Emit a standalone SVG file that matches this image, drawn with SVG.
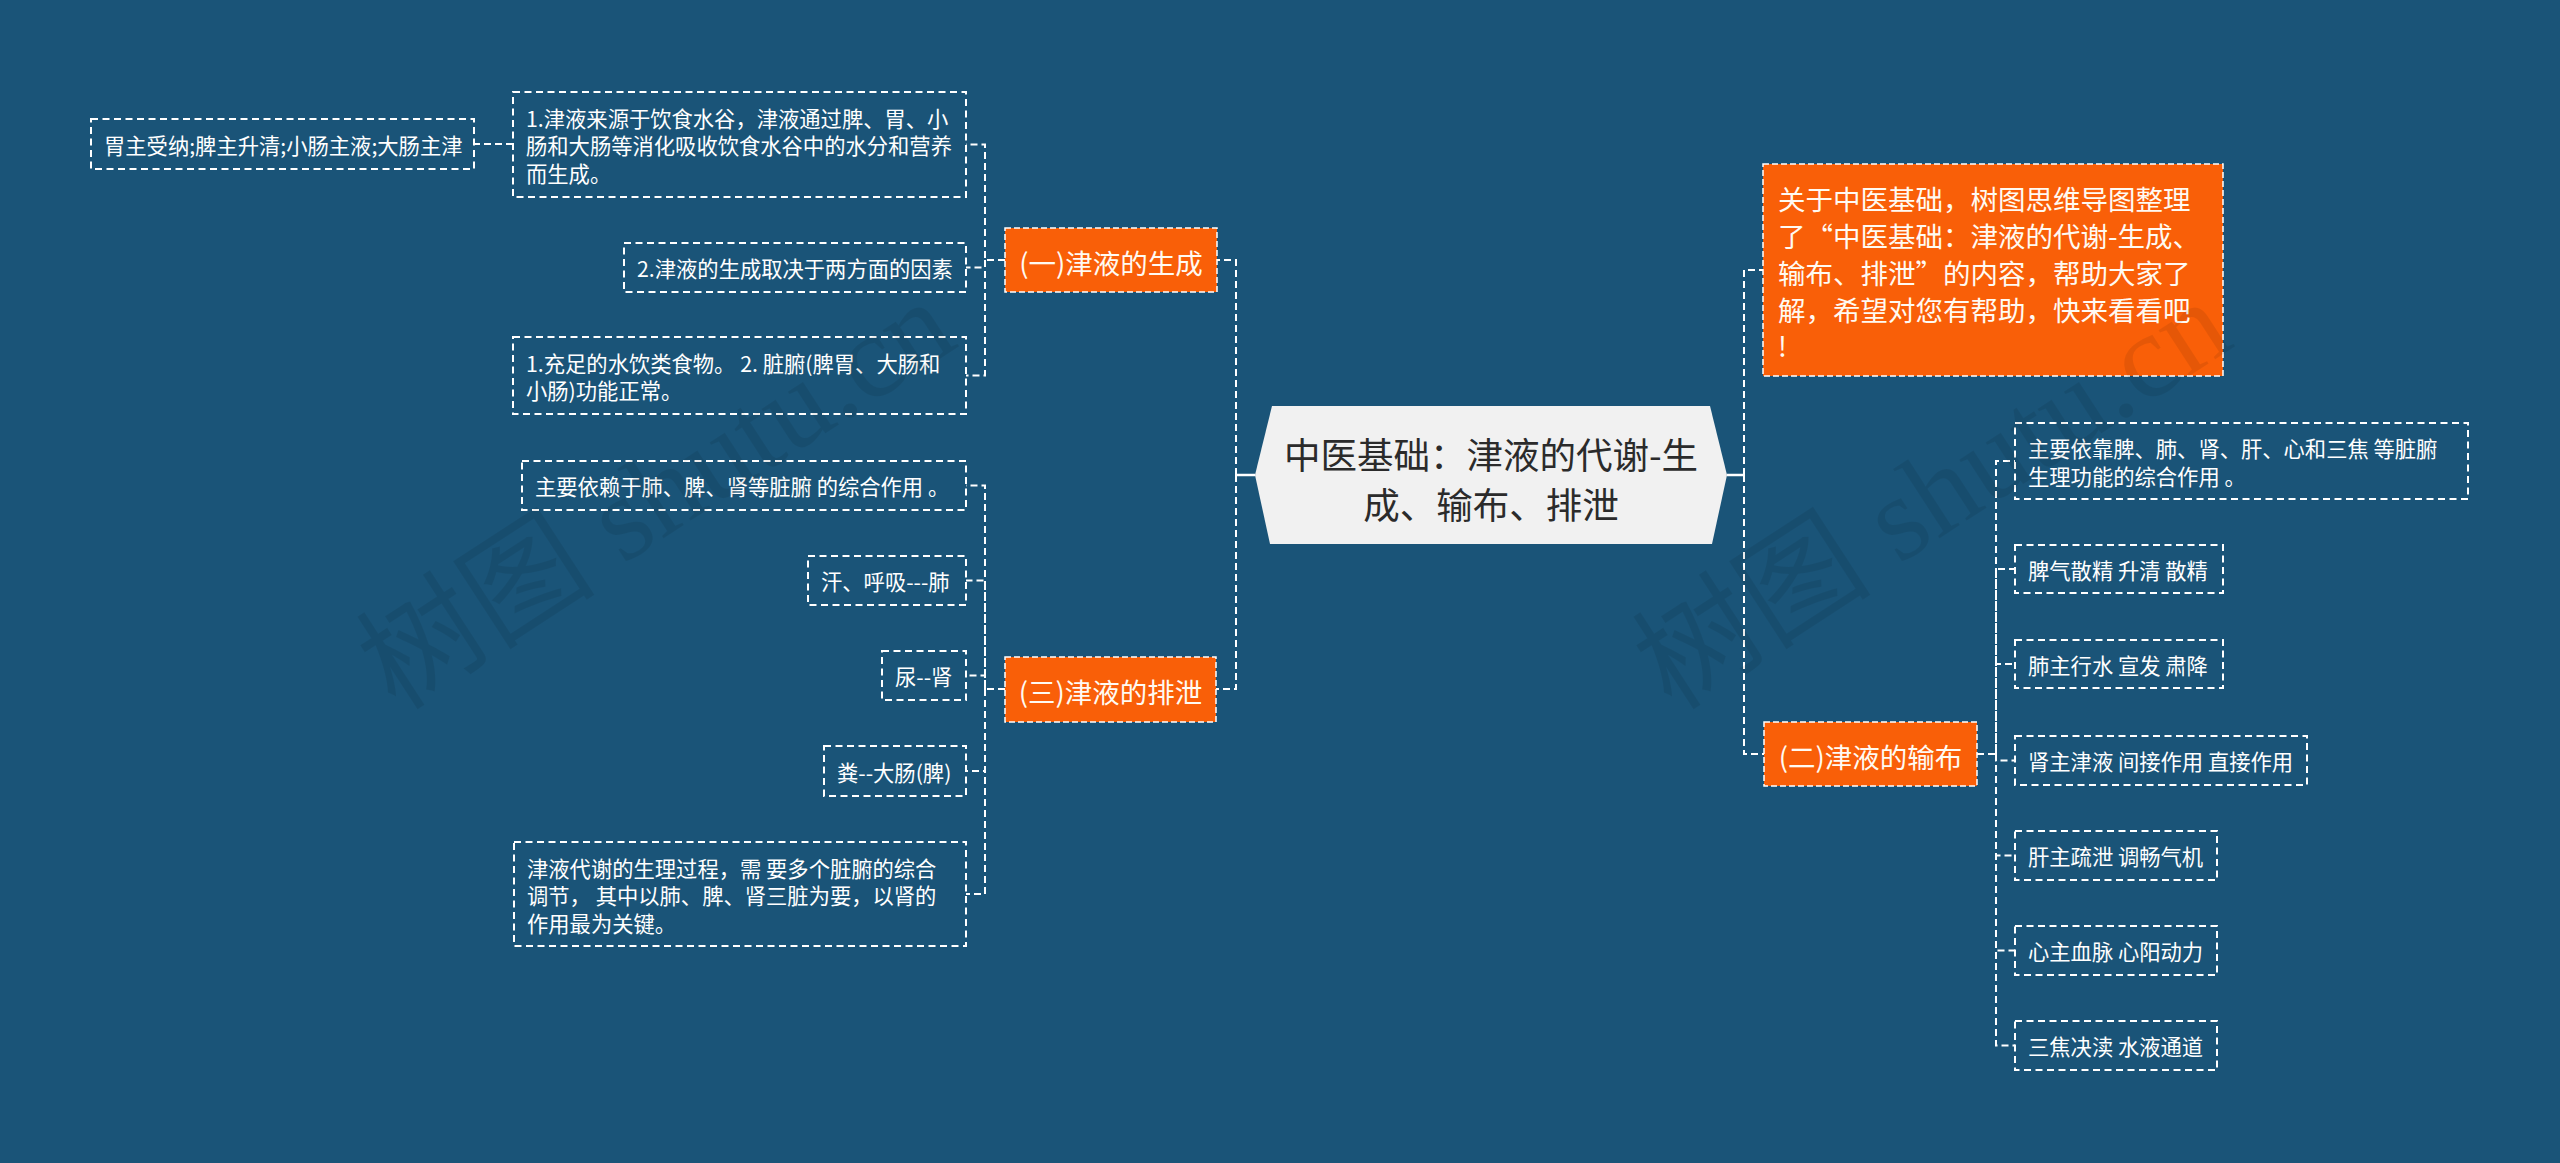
<svg xmlns="http://www.w3.org/2000/svg" width="2560" height="1163" viewBox="0 0 2560 1163">
<style>
.bg{fill:#1a5478}
.conn{fill:none;stroke:#ffffff;stroke-width:2;stroke-dasharray:7 4}
.stub{fill:none;stroke:#ffffff;stroke-width:2.5}
.leaf{fill:none;stroke:#ffffff;stroke-width:2;stroke-dasharray:7 4.5}
.org{fill:#f95f08;stroke:#ffffff;stroke-width:1.5;stroke-dasharray:6 3}
.root{fill:#f1f1f1}
.t{font-family:"Noto Sans CJK SC","Noto Sans",sans-serif;font-size:21.3px;fill:#ffffff;dominant-baseline:central}
.to{font-family:"Noto Sans CJK SC","Noto Sans",sans-serif;font-size:27.5px;fill:#fffaf2;dominant-baseline:central}
.tr{font-family:"Noto Sans CJK SC","Noto Sans",sans-serif;font-size:36.5px;fill:#2b2b2b;dominant-baseline:central;text-anchor:middle}
.wm{font-family:"Liberation Serif","Noto Sans CJK SC",serif;font-size:120px;fill:#000000;fill-opacity:0.08}
</style>
<rect class="bg" x="0" y="0" width="2560" height="1163"/>

<g id="connectors">
  <path class="stub" d="M1255,475 H1236"/>
  <path class="stub" d="M1727,475 H1744"/>
  <path class="conn" d="M1236,475 V260 H1005"/>
  <path class="conn" d="M1236,475 V689 H1005"/>
  <path class="conn" d="M1744,475 V270 H1763"/>
  <path class="conn" d="M1744,475 V754 H1764"/>
  <path class="conn" d="M1005,260 H985 V144.5 H966"/>
  <path class="conn" d="M985,260 V267.5 H966"/>
  <path class="conn" d="M985,260 V375.5 H966"/>
  <path class="conn" d="M513,144 H474"/>
  <path class="conn" d="M1005,689 H985 V485.5 H966"/>
  <path class="conn" d="M985,689 V580.5 H966"/>
  <path class="conn" d="M985,689 V675.5 H966"/>
  <path class="conn" d="M985,689 V771 H966"/>
  <path class="conn" d="M985,689 V894 H966"/>
  <path class="conn" d="M1977,754 H1996 V461 H2015"/>
  <path class="conn" d="M1996,754 V569 H2015"/>
  <path class="conn" d="M1996,754 V664 H2015"/>
  <path class="conn" d="M1996,754 V760.5 H2015"/>
  <path class="conn" d="M1996,754 V855.5 H2015"/>
  <path class="conn" d="M1996,754 V950.5 H2015"/>
  <path class="conn" d="M1996,754 V1045.5 H2015"/>
</g>

<g id="root">
  <polygon class="root" points="1272,406 1710,406 1727,475 1712,544 1270,544 1255,475"/>
  <text class="tr" x="1491" y="453">中医基础：津液的代谢-生</text>
  <text class="tr" x="1491" y="503">成、输布、排泄</text>
</g>

<g id="intro">
  <rect class="org" x="1763" y="164" width="460" height="212"/>
  <text class="to" x="1778" y="198">关于中医基础，树图思维导图整理</text>
  <text class="to" x="1778" y="235">了“中医基础：津液的代谢-生成、</text>
  <text class="to" x="1778" y="272">输布、排泄”的内容，帮助大家了</text>
  <text class="to" x="1778" y="308.5">解，希望对您有帮助，快来看看吧</text>
  <text class="to" x="1778" y="345">!</text>
</g>

<g id="n1">
  <rect class="org" x="1005" y="228" width="212" height="64"/>
  <text class="to" x="1111" y="262" text-anchor="middle">(一)津液的生成</text>
</g>
<g id="n3">
  <rect class="org" x="1005" y="657" width="211" height="65"/>
  <text class="to" x="1110.5" y="691" text-anchor="middle">(三)津液的排泄</text>
</g>
<g id="n2">
  <rect class="org" x="1764" y="722" width="213" height="64"/>
  <text class="to" x="1870.5" y="756" text-anchor="middle">(二)津液的输布</text>
</g>

<g id="n1a">
  <rect class="leaf" x="513" y="92" width="453" height="105"/>
  <text class="t" x="526" y="117">1.津液来源于饮食水谷，津液通过脾、胃、小</text>
  <text class="t" x="526" y="144.5">肠和大肠等消化吸收饮食水谷中的水分和营养</text>
  <text class="t" x="526" y="172">而生成。</text>
</g>
<g id="n1a1">
  <rect class="leaf" x="91" y="119" width="383" height="50"/>
  <text class="t" x="104" y="144">胃主受纳;脾主升清;小肠主液;大肠主津</text>
</g>
<g id="n1b">
  <rect class="leaf" x="624" y="243" width="342" height="49"/>
  <text class="t" x="637" y="267.5">2.津液的生成取决于两方面的因素</text>
</g>
<g id="n1c">
  <rect class="leaf" x="513" y="337" width="453" height="77"/>
  <text class="t" x="526" y="362">1.充足的水饮类食物。 2. 脏腑(脾胃、大肠和</text>
  <text class="t" x="526" y="389.5">小肠)功能正常。</text>
</g>

<g id="n3a">
  <rect class="leaf" x="522" y="461" width="444" height="49"/>
  <text class="t" x="535" y="485.5">主要依赖于肺、脾、肾等脏腑 的综合作用 。</text>
</g>
<g id="n3b">
  <rect class="leaf" x="808" y="556" width="158" height="49"/>
  <text class="t" x="821" y="580.5">汗、呼吸---肺</text>
</g>
<g id="n3c">
  <rect class="leaf" x="882" y="651" width="84" height="49"/>
  <text class="t" x="895" y="675.5">尿--肾</text>
</g>
<g id="n3d">
  <rect class="leaf" x="824" y="746" width="142" height="50"/>
  <text class="t" x="837" y="771">粪--大肠(脾)</text>
</g>
<g id="n3e">
  <rect class="leaf" x="514" y="842" width="452" height="104"/>
  <text class="t" x="527" y="867">津液代谢的生理过程，需 要多个脏腑的综合</text>
  <text class="t" x="527" y="894.5">调节， 其中以肺、脾、肾三脏为要，以肾的</text>
  <text class="t" x="527" y="922">作用最为关键。</text>
</g>

<g id="n2a">
  <rect class="leaf" x="2015" y="423" width="453" height="76"/>
  <text class="t" x="2028" y="447.5">主要依靠脾、肺、肾、肝、心和三焦 等脏腑</text>
  <text class="t" x="2028" y="475">生理功能的综合作用 。</text>
</g>
<g id="n2b">
  <rect class="leaf" x="2015" y="545" width="208" height="48"/>
  <text class="t" x="2028" y="569">脾气散精 升清 散精</text>
</g>
<g id="n2c">
  <rect class="leaf" x="2015" y="640" width="208" height="48"/>
  <text class="t" x="2028" y="664">肺主行水 宣发 肃降</text>
</g>
<g id="n2d">
  <rect class="leaf" x="2015" y="736" width="292" height="49"/>
  <text class="t" x="2028" y="760.5">肾主津液 间接作用 直接作用</text>
</g>
<g id="n2e">
  <rect class="leaf" x="2015" y="831" width="202" height="49"/>
  <text class="t" x="2028" y="855.5">肝主疏泄 调畅气机</text>
</g>
<g id="n2f">
  <rect class="leaf" x="2015" y="926" width="202" height="49"/>
  <text class="t" x="2028" y="950.5">心主血脉 心阳动力</text>
</g>
<g id="n2g">
  <rect class="leaf" x="2015" y="1021" width="202" height="49"/>
  <text class="t" x="2028" y="1045.5">三焦决渎 水液通道</text>
</g>

<text class="wm" transform="translate(396,712) rotate(-33)">树图 shutu.cn</text>
<text class="wm" transform="translate(1672,712) rotate(-33)">树图 shutu.cn</text>
</svg>
